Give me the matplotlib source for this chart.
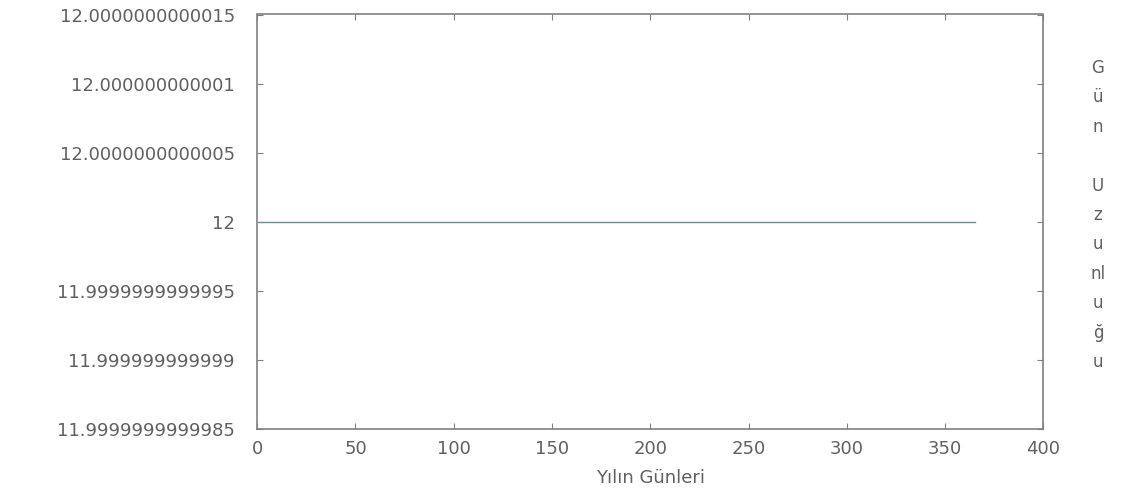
"""
Gün uzunluğu grafiği (gnuplot görünümü) - matplotlib ile yeniden çizim
"""

import numpy as np
import matplotlib

matplotlib.use("Agg")
import matplotlib.pyplot as plt

# === veri ===
days = np.arange(1, 366)
day_length = np.full(len(days), 12.0)  # grafikte her gün 12 saat

x_ticks = [0, 50, 100, 150, 200, 250, 300, 350, 400]
y_ticks = [12 - 1.5e-12, 12 - 1e-12, 12 - 5e-13, 12.0, 12 + 5e-13, 12 + 1e-12, 12 + 1.5e-12]
y_tick_labels = [
    "11.9999999999985",
    "11.999999999999",
    "11.9999999999995",
    "12",
    "12.0000000000005",
    "12.000000000001",
    "12.0000000000015",
]
right_label = ["G", "ü", "n", "", "U", "z", "u", "nl", "u", "ğ", "u"]

TEXT = "#606060"
FRAME = "#808080"


def draw():
    plt.rcParams["font.family"] = ["DejaVu Sans"]
    fig = plt.figure(figsize=(11.33, 4.98), dpi=100)
    ax = fig.add_axes([0.227, 0.139, 0.694, 0.832])

    ax.plot(days, day_length, color="#6f9090", linewidth=1.0)

    ax.set_xlim(0, 400)
    ax.set_ylim(12 - 1.5e-12, 12 + 1.5e-12)
    ax.set_xticks(x_ticks)
    ax.set_yticks(y_ticks)
    ax.set_yticklabels(y_tick_labels)

    for s in ax.spines.values():
        s.set_color(FRAME)
        s.set_linewidth(1.2)
    ax.tick_params(
        direction="in",
        top=True,
        right=True,
        length=4,
        color=FRAME,
        labelcolor=TEXT,
        labelsize=13,
    )
    ax.tick_params(axis="y", pad=16)
    ax.tick_params(axis="x", pad=8)

    ax.set_xlabel("Yılın Günleri", fontsize=13, color=TEXT, labelpad=8)

    # sağdaki dikey etiket: harfler alt alta
    y0, step = 1 - 68 / 498, 29.4 / 498
    for i, ch in enumerate(right_label):
        fig.text(
            1098 / 1133,
            y0 - i * step,
            ch,
            ha="center",
            va="center",
            fontsize=12,
            color=TEXT,
        )

    return fig


if __name__ == "__main__":
    fig = draw()
    fig.savefig("out.png", dpi=100)
